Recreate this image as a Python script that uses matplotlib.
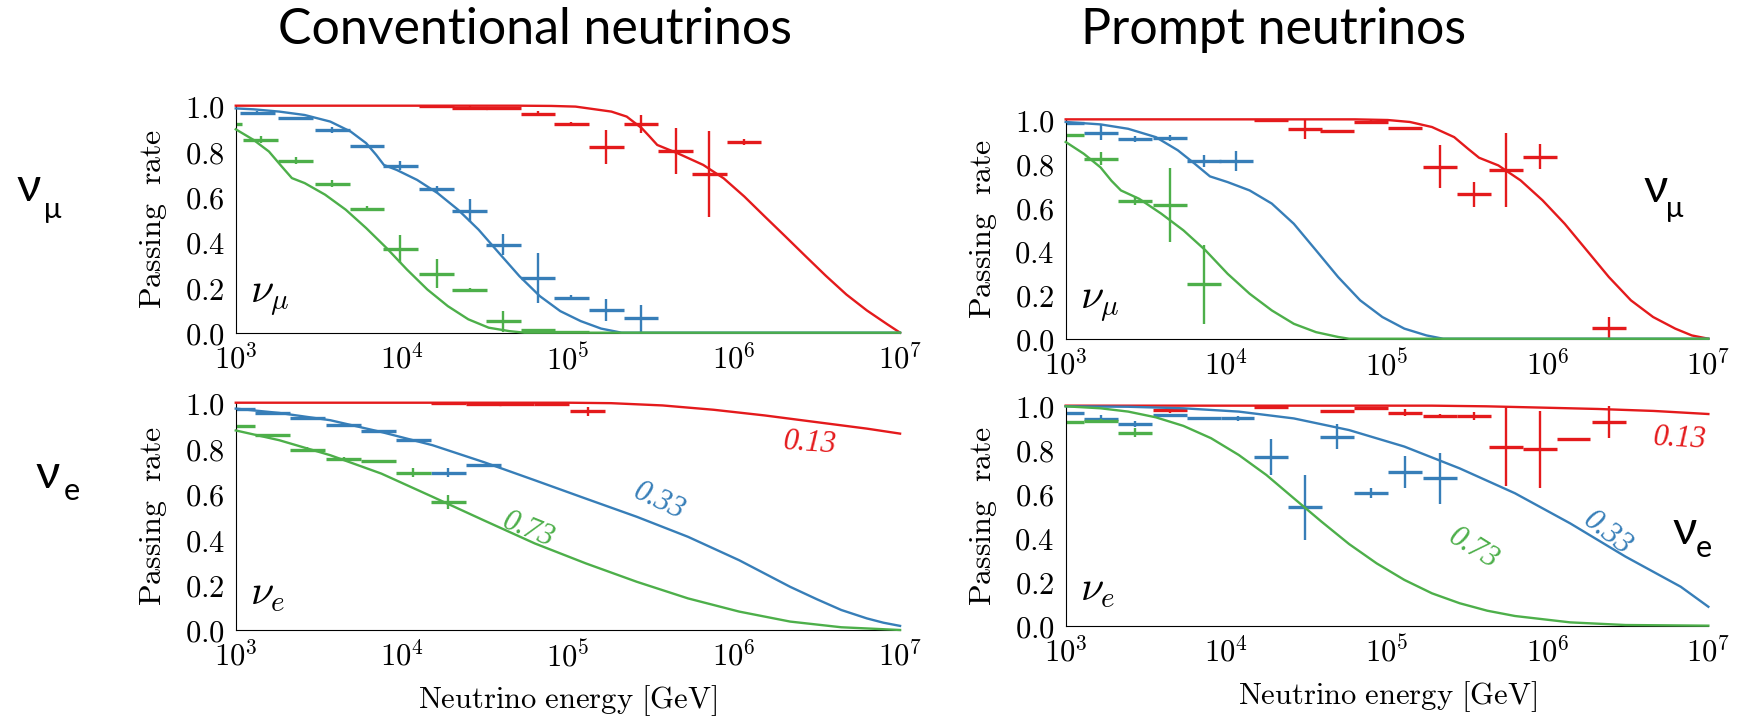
import matplotlib
matplotlib.use('Agg')
import matplotlib.pyplot as plt
import numpy as np
from matplotlib.ticker import FixedLocator, FuncFormatter, NullLocator

plt.rcParams['mathtext.fontset'] = 'cm'
plt.rcParams['font.family'] = ['DejaVu Serif']

RED = '#e41a1c'
BLUE = '#377eb8'
GREEN = '#4daf4a'
BIN_HALF = 0.105  # half bin width in log10(E)

# ---- conventional nu_mu (top left) ----
conv_mu_red_line = (
    [3.0, 4.7, 4.9, 5.046, 5.262, 5.354, 5.446, 5.492, 5.538, 5.662, 5.815, 5.938,
     6.062, 6.185, 6.308, 6.431, 6.554, 6.677, 6.8, 6.923, 7.0],
    [1.0, 1.0, 0.999, 0.996, 0.974, 0.952, 0.900, 0.864, 0.827, 0.790, 0.739, 0.680,
     0.600, 0.512, 0.425, 0.337, 0.250, 0.168, 0.098, 0.037, 0.0])
conv_mu_blue_line = (
    [3.0, 3.108, 3.262, 3.415, 3.569, 3.692, 3.785, 3.846, 3.892, 3.969, 4.092, 4.215,
     4.338, 4.462, 4.585, 4.708, 4.831, 4.954, 5.077, 5.2, 5.323, 7.0],
    [0.988, 0.984, 0.974, 0.959, 0.930, 0.886, 0.835, 0.783, 0.739, 0.717, 0.673, 0.615,
     0.542, 0.454, 0.351, 0.249, 0.161, 0.095, 0.051, 0.018, 0.0, 0.0])
conv_mu_green_line = (
    [3.0, 3.108, 3.2, 3.277, 3.338, 3.415, 3.538, 3.662, 3.785, 3.908, 4.031, 4.154,
     4.277, 4.4, 4.523, 4.646, 4.738, 7.0],
    [0.896, 0.849, 0.798, 0.732, 0.681, 0.659, 0.608, 0.542, 0.461, 0.373, 0.278, 0.190,
     0.117, 0.059, 0.022, 0.007, 0.0, 0.0])
conv_mu_red_pts = (
    [4.21, 4.41, 4.61, 4.82, 5.02, 5.23, 5.44, 5.65, 5.85, 6.06],
    [0.997, 0.992, 0.988, 0.965, 0.92, 0.82, 0.92, 0.80, 0.70, 0.84],
    [0.003, 0.005, 0.005, 0.01, 0.006, 0.075, 0.04, 0.10, 0.19, 0.012])
conv_mu_blue_pts = (
    [3.13, 3.36, 3.58, 3.79, 3.99, 4.21, 4.41, 4.61, 4.82, 5.02, 5.23, 5.44],
    [0.97, 0.945, 0.893, 0.823, 0.735, 0.632, 0.537, 0.388, 0.239, 0.154, 0.10, 0.063],
    [0.005, 0.006, 0.015, 0.006, 0.02, 0.015, 0.05, 0.045, 0.11, 0.01, 0.05, 0.06])
conv_mu_green_pts = (
    [2.93, 3.15, 3.36, 3.58, 3.79, 3.99, 4.21, 4.41, 4.61, 4.82, 5.02],
    [0.92, 0.85, 0.757, 0.656, 0.546, 0.37, 0.26, 0.187, 0.05, 0.01, 0.004],
    [0.004, 0.015, 0.015, 0.015, 0.012, 0.062, 0.065, 0.008, 0.045, 0.004, 0.003])

# ---- prompt nu_mu (top right) ----
prompt_mu_red_line = (
    [3.0, 4.8, 5.005, 5.143, 5.280, 5.418, 5.504, 5.573, 5.693, 5.831, 5.968, 6.106,
     6.243, 6.381, 6.518, 6.656, 6.794, 6.897, 7.0],
    [1.0, 1.0, 0.997, 0.988, 0.965, 0.919, 0.866, 0.825, 0.790, 0.722, 0.631, 0.524,
     0.403, 0.281, 0.175, 0.099, 0.046, 0.015, 0.0])
prompt_mu_blue_line = (
    [3.0, 3.217, 3.389, 3.561, 3.698, 3.801, 3.898, 4.008, 4.145, 4.283, 4.420, 4.558,
     4.696, 4.833, 4.971, 5.108, 5.246, 5.349, 7.0],
    [0.988, 0.977, 0.957, 0.919, 0.859, 0.799, 0.740, 0.714, 0.676, 0.616, 0.524, 0.403,
     0.281, 0.175, 0.099, 0.046, 0.015, 0.0, 0.0])
prompt_mu_green_line = (
    [3.0, 3.113, 3.217, 3.285, 3.344, 3.457, 3.595, 3.733, 3.870, 4.008, 4.145, 4.283,
     4.420, 4.558, 4.696, 4.764, 7.0],
    [0.897, 0.843, 0.781, 0.720, 0.676, 0.638, 0.570, 0.494, 0.403, 0.296, 0.205, 0.129,
     0.068, 0.030, 0.008, 0.0, 0.0])
prompt_mu_red_pts = (
    [4.28, 4.49, 4.69, 4.90, 5.11, 5.33, 5.54, 5.74, 5.95, 6.38],
    [0.998, 0.955, 0.945, 0.99, 0.96, 0.785, 0.658, 0.77, 0.83, 0.05],
    [0.003, 0.045, 0.006, 0.01, 0.006, 0.10, 0.057, 0.17, 0.057, 0.05])
prompt_mu_blue_pts = (
    [3.01, 3.22, 3.43, 3.65, 3.86, 4.06],
    [0.985, 0.94, 0.91, 0.915, 0.81, 0.81],
    [0.005, 0.035, 0.015, 0.015, 0.027, 0.045])
prompt_mu_green_pts = (
    [3.01, 3.22, 3.43, 3.65, 3.86],
    [0.927, 0.82, 0.63, 0.61, 0.248],
    [0.004, 0.03, 0.02, 0.17, 0.18])

# ---- conventional nu_e (bottom left) ----
conv_e_red_line = (
    [3.0, 5.0, 5.26, 5.57, 5.877, 6.185, 6.492, 6.8, 7.0],
    [1.0, 1.0, 0.998, 0.988, 0.969, 0.944, 0.915, 0.886, 0.864])
conv_e_blue_line = (
    [3.0, 3.262, 3.569, 3.877, 4.185, 4.492, 4.8, 5.108, 5.415, 5.723, 6.031, 6.338,
     6.5, 6.646, 6.8, 6.9, 7.0],
    [0.974, 0.955, 0.923, 0.871, 0.813, 0.739, 0.659, 0.578, 0.498, 0.410, 0.307, 0.190,
     0.135, 0.088, 0.051, 0.032, 0.018])
conv_e_green_line = (
    [3.0, 3.262, 3.569, 3.877, 4.185, 4.492, 4.8, 5.108, 5.415, 5.723, 6.031, 6.338,
     6.646, 7.0],
    [0.878, 0.835, 0.769, 0.688, 0.586, 0.483, 0.381, 0.293, 0.212, 0.139, 0.081, 0.037,
     0.012, 0.0])
conv_e_red_pts = (
    [4.28, 4.49, 4.69, 4.90, 5.12],
    [0.998, 0.995, 0.995, 0.995, 0.963],
    [0.002, 0.003, 0.003, 0.003, 0.02])
conv_e_blue_pts = (
    [3.01, 3.22, 3.43, 3.65, 3.86, 4.07, 4.28, 4.49],
    [0.974, 0.955, 0.933, 0.903, 0.876, 0.835, 0.691, 0.725],
    [0.003, 0.004, 0.004, 0.004, 0.004, 0.005, 0.02, 0.006])
conv_e_green_pts = (
    [3.01, 3.22, 3.43, 3.65, 3.86, 4.07, 4.28],
    [0.896, 0.859, 0.794, 0.754, 0.743, 0.691, 0.564],
    [0.003, 0.005, 0.01, 0.005, 0.004, 0.02, 0.03])

# ---- prompt nu_e (bottom right) ----
prompt_e_red_line = (
    [3.0, 5.28, 5.62, 5.97, 6.31, 6.66, 7.0],
    [1.0, 1.0, 0.997, 0.991, 0.985, 0.976, 0.962])
prompt_e_blue_line = (
    [3.0, 3.389, 3.733, 4.077, 4.420, 4.764, 5.108, 5.452, 5.796, 6.140, 6.484, 6.828, 7.0],
    [0.997, 0.995, 0.988, 0.973, 0.942, 0.889, 0.814, 0.715, 0.602, 0.465, 0.314, 0.177,
     0.086])
prompt_e_green_line = (
    [3.0, 3.217, 3.389, 3.561, 3.733, 3.905, 4.077, 4.249, 4.420, 4.592, 4.764, 4.936,
     5.108, 5.280, 5.452, 5.624, 5.796, 6.140, 6.484, 7.0],
    [0.997, 0.988, 0.973, 0.947, 0.908, 0.852, 0.776, 0.685, 0.579, 0.473, 0.371, 0.283,
     0.208, 0.147, 0.102, 0.068, 0.044, 0.015, 0.003, 0.0])
prompt_e_red_pts = (
    [3.65, 4.28, 4.69, 4.90, 5.11, 5.33, 5.54, 5.74, 5.95, 6.16, 6.38],
    [0.98, 0.995, 0.977, 0.988, 0.968, 0.953, 0.953, 0.814, 0.802, 0.848, 0.927],
    [0.012, 0.003, 0.005, 0.005, 0.015, 0.01, 0.02, 0.18, 0.175, 0.005, 0.072])
prompt_e_blue_pts = (
    [3.01, 3.22, 3.43, 3.65, 3.86, 4.07, 4.28, 4.49, 4.69, 4.90, 5.11, 5.33],
    [0.968, 0.941, 0.917, 0.958, 0.942, 0.942, 0.768, 0.538, 0.859, 0.602, 0.697, 0.67],
    [0.004, 0.015, 0.015, 0.004, 0.004, 0.01, 0.082, 0.147, 0.057, 0.023, 0.072, 0.117])
prompt_e_green_pts = (
    [3.01, 3.22, 3.43],
    [0.928, 0.932, 0.877],
    [0.004, 0.006, 0.02])

# curve labels (log10 E, rate, text, rotation)
conv_e_labels = [(6.46, 0.82, '0.13', -4, RED), (5.55, 0.565, '0.33', -25, BLUE),
                 (4.76, 0.44, '0.73', -22, GREEN)]
prompt_e_labels = [(6.82, 0.85, '0.13', -3, RED), (6.37, 0.42, '0.33', -38, BLUE),
                   (5.54, 0.35, '0.73', -32, GREEN)]


def draw_points(ax, pts, color):
    logc, rate, err = (np.asarray(a) for a in pts)
    ax.hlines(rate, 10 ** (logc - BIN_HALF), 10 ** (logc + BIN_HALF), color=color, lw=2.4)
    ax.vlines(10 ** logc, rate - err, rate + err, color=color, lw=1.7)


def draw_line(ax, line, color):
    loge, rate = line
    ax.plot(10 ** np.asarray(loge), rate, color=color, lw=1.7, clip_on=False, zorder=3)


def style_axes(ax, xlabel=True):
    ax.set_xscale('log')
    ax.set_xlim(1e3, 1e7)
    ax.set_ylim(0, 1.0)
    ax.spines['top'].set_visible(False)
    ax.spines['right'].set_visible(False)
    ax.xaxis.set_major_locator(FixedLocator([1e3, 1e4, 1e5, 1e6, 1e7]))
    ax.xaxis.set_minor_locator(NullLocator())
    ax.xaxis.set_major_formatter(FuncFormatter(lambda v, p: r'$10^{%d}$' % round(np.log10(v))))
    ax.set_yticks([0, 0.2, 0.4, 0.6, 0.8, 1.0])
    ax.yaxis.set_major_formatter(FuncFormatter(lambda v, p: r'$%.1f$' % v))
    ax.tick_params(length=0, labelsize=22, pad=8)
    ax.set_ylabel(r'$\mathrm{Passing\ \ rate}$', fontsize=23, labelpad=11)
    if xlabel:
        ax.set_xlabel(r'$\mathrm{Neutrino\ energy\ [GeV]}$', fontsize=22, labelpad=7)


fig = plt.figure(figsize=(17.45, 7.19), dpi=100)
ax_tl = fig.add_axes([0.1351, 0.5373, 0.3807, 0.3157])
ax_tr = fig.add_axes([0.6107, 0.5289, 0.3683, 0.3051])
ax_bl = fig.add_axes([0.1351, 0.1238, 0.3807, 0.3161])
ax_br = fig.add_axes([0.6107, 0.1298, 0.3683, 0.3060])

panels = [
    (ax_tl, [conv_mu_red_pts, conv_mu_blue_pts, conv_mu_green_pts],
     [conv_mu_red_line, conv_mu_blue_line, conv_mu_green_line], r'$\nu_\mu$', False),
    (ax_tr, [prompt_mu_red_pts, prompt_mu_blue_pts, prompt_mu_green_pts],
     [prompt_mu_red_line, prompt_mu_blue_line, prompt_mu_green_line], r'$\nu_\mu$', False),
    (ax_bl, [conv_e_red_pts, conv_e_blue_pts, conv_e_green_pts],
     [conv_e_red_line, conv_e_blue_line, conv_e_green_line], r'$\nu_e$', True),
    (ax_br, [prompt_e_red_pts, prompt_e_blue_pts, prompt_e_green_pts],
     [prompt_e_red_line, prompt_e_blue_line, prompt_e_green_line], r'$\nu_e$', True),
]
for ax, pts_list, lines, flav, xl in panels:
    for pts, c in zip(pts_list, [RED, BLUE, GREEN]):
        draw_points(ax, pts, c)
    for line, c in zip(lines, [RED, BLUE, GREEN]):
        draw_line(ax, line, c)
    style_axes(ax, xl)
    ax.text(0.022, 0.07, flav, transform=ax.transAxes, fontsize=30, ha='left', va='bottom')

for ax, labels in [(ax_bl, conv_e_labels), (ax_br, prompt_e_labels)]:
    for lx, ly, txt, rot, c in labels:
        ax.text(10 ** lx, ly, txt, color=c, fontsize=22, rotation=rot, ha='center', va='center',
                family='Liberation Serif', style='italic', rotation_mode='anchor')

# sans-serif flavour labels
SANS = ['Lato', 'DejaVu Sans']
fig.text(0.3066, 0.958, 'Conventional neutrinos', fontsize=36, family=SANS, ha='center', va='center')
fig.text(0.730, 0.958, 'Prompt neutrinos', fontsize=36, family=SANS, ha='center', va='center')
fig.text(29 / 1745, 1 - 188 / 719, 'ν', fontsize=34, family=SANS, ha='center', va='center')
fig.text(53 / 1745, 1 - 210 / 719, 'μ', fontsize=21, family=SANS, ha='center', va='center')
fig.text(48 / 1745, 1 - 475 / 719, 'ν', fontsize=34, family=SANS, ha='center', va='center')
fig.text(72 / 1745, 1 - 491 / 719, 'e', fontsize=22, family=SANS, ha='center', va='center')
ax_tr.text(0.918, 0.684, 'ν', fontsize=34, family=SANS, ha='center', va='center', transform=ax_tr.transAxes)
ax_tr.text(0.948, 0.59, 'μ', fontsize=21, family=SANS, ha='center', va='center', transform=ax_tr.transAxes)
ax_br.text(0.963, 0.43, 'ν', fontsize=34, family=SANS, ha='center', va='center', transform=ax_br.transAxes)
ax_br.text(0.993, 0.355, 'e', fontsize=22, family=SANS, ha='center', va='center', transform=ax_br.transAxes)

fig.savefig('out.png', dpi=100)
